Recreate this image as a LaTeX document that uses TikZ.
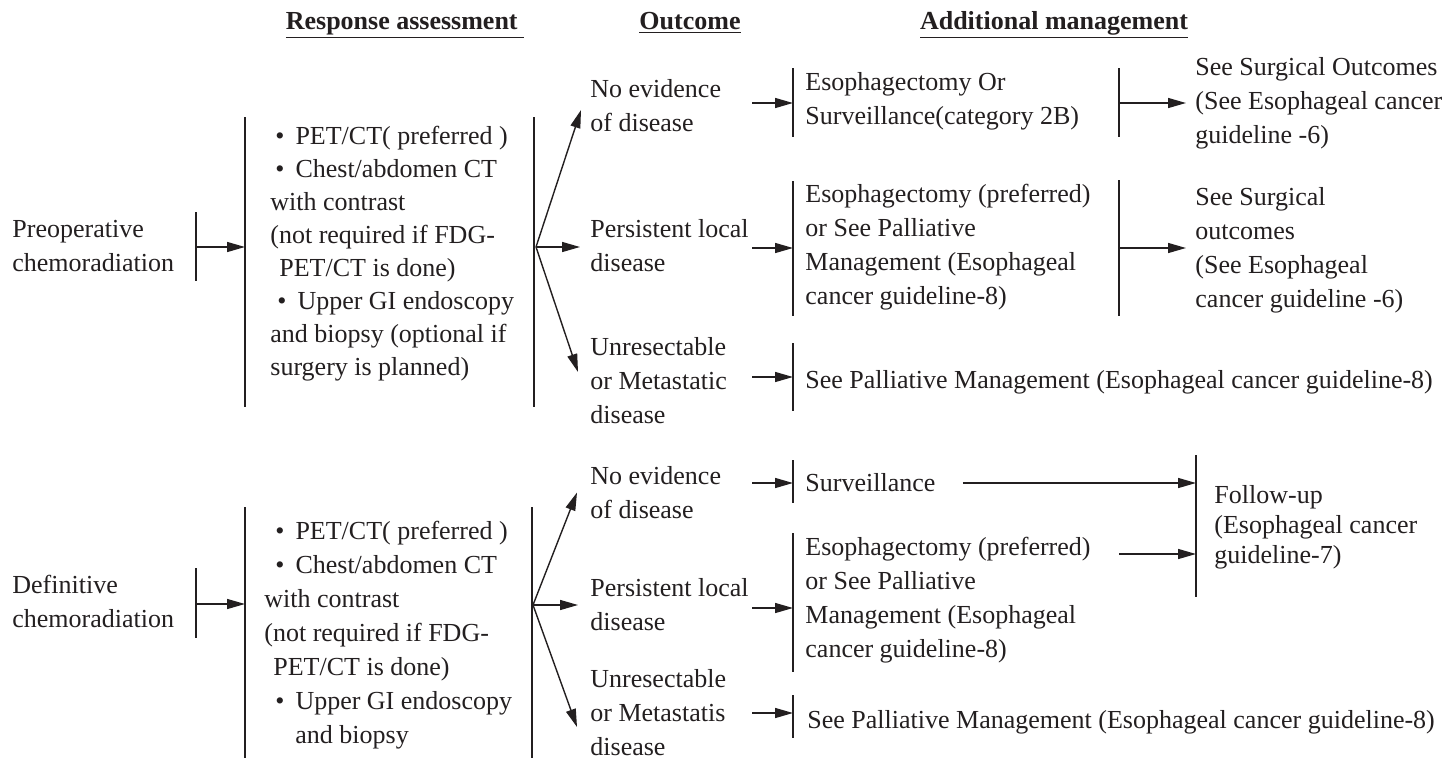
\documentclass[tikz,border=0pt]{standalone}
\usepackage{fontspec}
\setmainfont{Liberation Serif}
\usepackage{xcolor}
\usetikzlibrary{arrows.meta}
\usetikzlibrary{positioning}
\definecolor{ink}{RGB}{35,31,32}

\begin{document}
\begin{tikzpicture}[
  x=0.5pt, y=-0.5pt,
  every node/.style={inner sep=0pt, anchor=west, align=left, text=ink,
    font=\fontsize{13}{17}\selectfont},
  head/.style={anchor=base, font=\fontsize{13}{17}\selectfont\bfseries},
  tight/.style={font=\fontsize{13}{16.5}\selectfont},
  narrow/.style={font=\fontsize{13}{15}\selectfont},
  bar/.style={draw=ink, line width=1pt},
  arr/.style={draw=ink, line width=0.7pt, -{Triangle[length=9pt,width=5pt]}}
]
\fill[white] (0,0) rectangle (1450,760);
\useasboundingbox (0,0) rectangle (1450,760);

% column heads
\node[head] (hResp) at (405,29) {\underline{Response assessment\ }};
\node[head] (hOut) at (690,29) {\underline{Outcome}};
\node[head] (hMan) at (1054,29) {\underline{Additional management}};

% preoperative branch
\node (pre) at (12,246) {Preoperative\\chemoradiation};
\draw[bar] (196,212) -- (196,281);
\coordinate (pa) at (196,247);
\coordinate (pb) at (245,247);
\draw[arr] (pa) -- (pb);
\draw[bar] (245,117) -- (245,407);
\draw[bar] (534,117) -- (534,407);
\node[tight] (ra) at (270,254) {%
  \hspace*{2.5pt}\textbullet\hspace{5.5pt}PET/CT( preferred )\\
  \hspace*{2.5pt}\textbullet\hspace{5.5pt}Chest/abdomen CT\\
  with contrast\\
  (not required if FDG-\\
  \hspace*{4.5pt}PET/CT is done)\\
  \hspace*{3.5pt}\textbullet\hspace{5.5pt}Upper GI endoscopy\\
  and biopsy (optional if\\
  surgery is planned)};

\coordinate (fa) at (536,247);
\node (o1) at (590,105.5) {No evidence\\of disease};
\node (o2) at (590,246) {Persistent local\\disease};
\node (o3) at (590,381) {Unresectable\\or Metastatic\\disease};
\draw[arr] (fa) -- ([xshift=-4.5pt,yshift=-2.25pt]o1.west);
\draw[arr, shorten >=5pt] (fa) -- (o2.west |- fa);
\draw[arr] (fa) -- ([xshift=-6pt,yshift=4.5pt]o3.west);

\coordinate (s) at (752,0);
\draw[bar] (793,68) -- (793,137);
\draw[bar] (793,181) -- (793,316);
\draw[bar] (793,343) -- (793,411);
\coordinate (m1) at (793,103);
\coordinate (m2) at (793,248);
\coordinate (m3) at (793,377);
\draw[arr] (s |- m1) -- (m1);
\draw[arr] (s |- m2) -- (m2);
\draw[arr] (s |- m3) -- (m3);

\node (g1) at (805,101.5) {Esophagectomy Or\\Surveillance(category 2B)};
\node (g2) at (805,247.5) {Esophagectomy (preferred)\\or See Palliative\\Management (Esophageal\\cancer guideline-8)};
\node (g3) at (805,382) {See Palliative Management (Esophageal cancer guideline-8)};

\draw[bar] (1119,68) -- (1119,137);
\draw[bar] (1119,180) -- (1119,316);
\coordinate (r1) at (1119,103);
\coordinate (r2) at (1119,248);
\node (f1) at (1195,103) {See Surgical Outcomes\\(See Esophageal cancer\\guideline -6)};
\node (f2) at (1195,250) {See Surgical\\outcomes\\(See Esophageal\\cancer guideline -6)};
\draw[arr, shorten >=4.5pt] (r1) -- (f1.west |- r1);
\draw[arr, shorten >=4.5pt] (r2) -- (f2.west |- r2);

% definitive branch
\node (def) at (12,601) {Definitive\\chemoradiation};
\draw[bar] (196,568) -- (196,638);
\coordinate (da) at (196,604);
\coordinate (db) at (245,604);
\draw[arr] (da) -- (db);
\draw[bar] (245,507) -- (245,758);
\draw[bar] (532,507) -- (532,758);
\node (rb) at (264,635) {%
  \hspace*{5.5pt}\textbullet\hspace{5.5pt}PET/CT( preferred )\\
  \hspace*{5.5pt}\textbullet\hspace{5.5pt}Chest/abdomen CT\\
  with contrast\\
  (not required if FDG-\\
  \hspace*{4.5pt}PET/CT is done)\\
  \hspace*{5.5pt}\textbullet\hspace{5.5pt}Upper GI endoscopy\\
  \hspace*{15.5pt}and biopsy};

\coordinate (fb) at (533,605);
\node (o4) at (590,492.5) {No evidence\\of disease};
\node (o5) at (590,605) {Persistent local\\disease};
\node (o6) at (590,713) {Unresectable\\or Metastatis\\disease};
\draw[arr] (fb) -- ([xshift=-6.5pt]o4.west);
\draw[arr, shorten >=6pt] (fb) -- (o5.west |- fb);
\draw[arr] (fb) -- ([xshift=-6.5pt,yshift=-7pt]o6.west);

\draw[bar] (793,460) -- (793,503);
\draw[bar] (793,533) -- (793,672);
\draw[bar] (793,695) -- (793,738);
\coordinate (m4) at (793,483);
\coordinate (m5) at (793,608);
\coordinate (m6) at (793,713);
\draw[arr] (s |- m4) -- (m4);
\draw[arr] (s |- m5) -- (m5);
\draw[arr] (s |- m6) -- (m6);

\node (g4) at (805,483) {Surveillance};
\node (g5) at (805,600) {Esophagectomy (preferred)\\or See Palliative\\Management (Esophageal\\cancer guideline-8)};
\node (g6) at (807,722) {See Palliative Management (Esophageal cancer guideline-8)};

\draw[bar] (1196,455) -- (1196,597);
\coordinate (k1) at (1196,483);
\coordinate (k2) at (1196,554);
\node[narrow] (fu) at (1214,527.5) {Follow-up\\(Esophageal cancer\\guideline-7)};
\draw[arr] ([xshift=13.5pt]g4.east) -- (k1);
\draw[arr] (r1 |- k2) -- (k2);
\end{tikzpicture}
\end{document}
